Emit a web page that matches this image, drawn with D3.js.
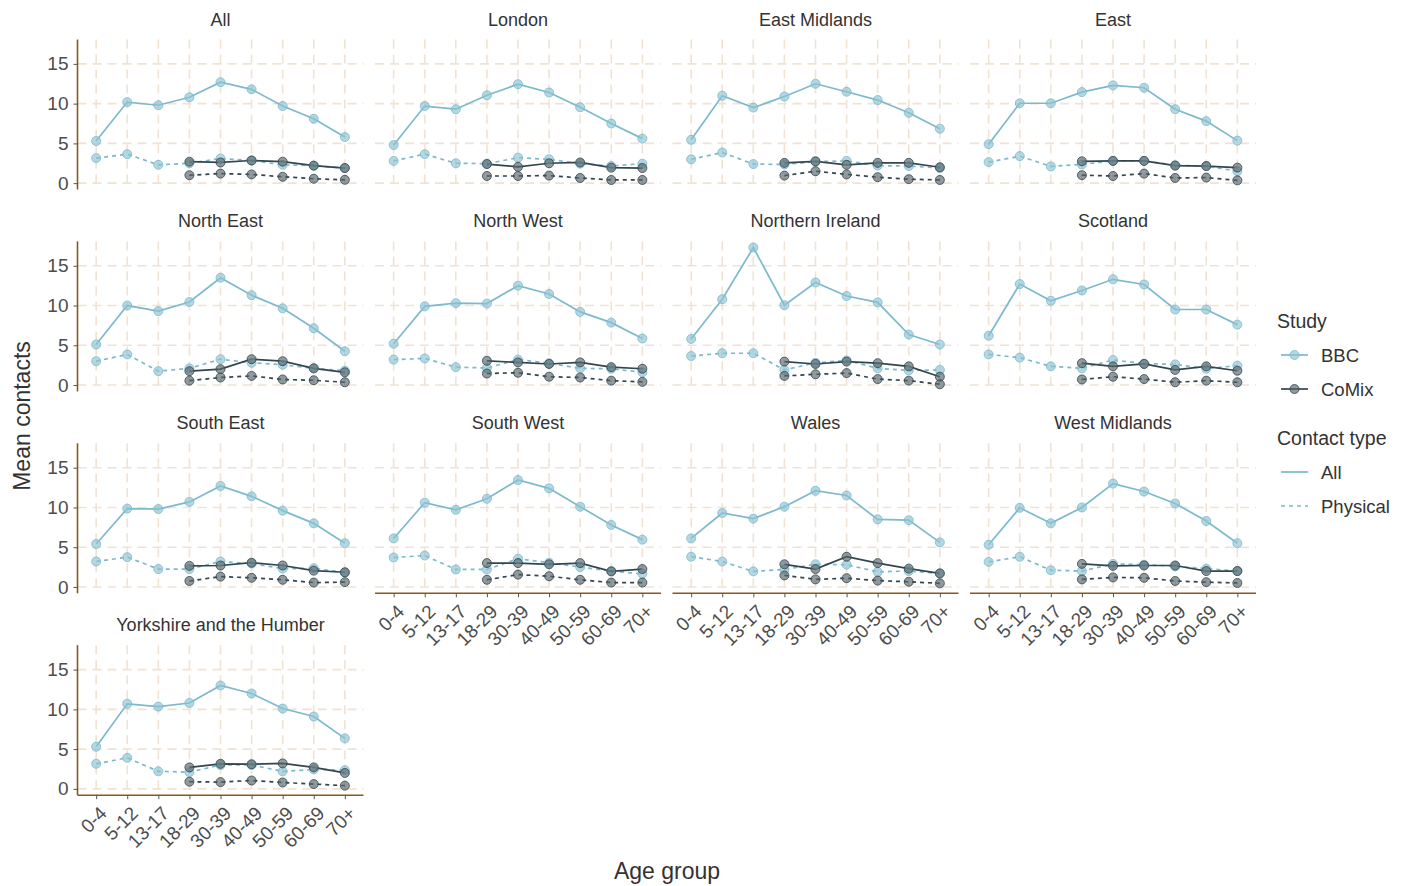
<!DOCTYPE html>
<html>
<head>
<meta charset="utf-8">
<script src="https://cdn.jsdelivr.net/npm/d3@7"></script>
<style>
  body { margin: 0; background: #fff; }
  svg { display: block; font-family: "Liberation Sans", Arial, sans-serif; }
</style>
</head>
<body>
<div id="chart"></div>
<script>
// Data
const ageGroups = ["0-4", "5-12", "13-17", "18-29", "30-39", "40-49", "50-59", "60-69", "70+"];
const comixAges = ["18-29", "30-39", "40-49", "50-59", "60-69", "70+"];
const regions = ["All", "London", "East Midlands", "East", "North East", "North West",
  "Northern Ireland", "Scotland", "South East", "South West", "Wales", "West Midlands",
  "Yorkshire and the Humber"];
const yTicks = [0, 5, 10, 15];

// one row per region, in the same order as regions
const bbcAll = [
  [5.3, 10.2, 9.8, 10.8, 12.7, 11.8, 9.7, 8.1, 5.8],
  [4.8, 9.7, 9.3, 11.05, 12.45, 11.4, 9.55, 7.5, 5.6],
  [5.45, 11.0, 9.5, 10.9, 12.5, 11.5, 10.45, 8.85, 6.85],
  [4.9, 10.05, 10.05, 11.45, 12.3, 12.0, 9.3, 7.8, 5.35],
  [5.1, 10.0, 9.3, 10.45, 13.5, 11.3, 9.65, 7.15, 4.25],
  [5.2, 9.9, 10.3, 10.25, 12.5, 11.45, 9.2, 7.85, 5.85],
  [5.8, 10.8, 17.3, 10.05, 12.9, 11.2, 10.4, 6.35, 5.1],
  [6.2, 12.7, 10.6, 11.9, 13.3, 12.65, 9.5, 9.5, 7.6],
  [5.4, 9.85, 9.8, 10.7, 12.7, 11.4, 9.6, 8.0, 5.5],
  [6.1, 10.6, 9.7, 11.1, 13.45, 12.4, 10.1, 7.8, 5.95],
  [6.1, 9.3, 8.6, 10.1, 12.1, 11.5, 8.5, 8.4, 5.6],
  [5.3, 9.95, 8.0, 10.0, 13.0, 12.0, 10.5, 8.3, 5.5],
  [5.3, 10.7, 10.35, 10.8, 13.0, 12.0, 10.1, 9.1, 6.35]
];
const bbcPhysical = [
  [3.15, 3.65, 2.3, 2.5, 3.1, 2.85, 2.3, 2.2, 1.9],
  [2.8, 3.65, 2.5, 2.45, 3.2, 3.0, 2.45, 2.15, 2.45],
  [3.0, 3.85, 2.4, 2.35, 2.7, 2.8, 2.2, 2.15, 1.9],
  [2.65, 3.4, 2.1, 2.35, 2.8, 2.8, 2.25, 2.15, 1.5],
  [3.0, 3.85, 1.75, 2.1, 3.25, 2.8, 2.55, 2.1, 1.8],
  [3.2, 3.35, 2.25, 2.15, 3.2, 2.75, 2.1, 2.05, 1.6],
  [3.65, 4.0, 4.0, 1.9, 2.8, 3.1, 2.1, 1.85, 1.9],
  [3.85, 3.45, 2.35, 2.1, 3.15, 2.7, 2.6, 2.05, 2.45],
  [3.2, 3.75, 2.25, 2.25, 3.2, 2.95, 2.3, 2.35, 1.8],
  [3.7, 3.95, 2.2, 2.2, 3.55, 3.05, 2.5, 2.0, 1.65],
  [3.8, 3.2, 1.95, 2.2, 2.85, 2.8, 1.9, 2.0, 1.7],
  [3.15, 3.8, 2.1, 2.0, 2.9, 2.8, 2.6, 2.3, 2.0],
  [3.15, 3.9, 2.2, 2.1, 3.0, 3.0, 2.2, 2.45, 2.35]
];
const comixAll = [
  [2.7, 2.6, 2.85, 2.7, 2.2, 1.9],
  [2.4, 2.05, 2.5, 2.6, 1.95, 1.9],
  [2.55, 2.75, 2.3, 2.55, 2.55, 2.0],
  [2.75, 2.8, 2.8, 2.2, 2.15, 1.95],
  [1.75, 2.0, 3.25, 3.0, 2.1, 1.6],
  [3.05, 2.85, 2.65, 2.85, 2.25, 2.05],
  [2.95, 2.65, 2.95, 2.75, 2.35, 1.05],
  [2.75, 2.35, 2.65, 1.9, 2.35, 1.8],
  [2.65, 2.7, 3.05, 2.7, 2.05, 1.85],
  [3.0, 3.0, 2.85, 3.0, 1.95, 2.25],
  [2.85, 2.25, 3.8, 3.0, 2.3, 1.7],
  [2.9, 2.65, 2.7, 2.7, 2.0, 2.0],
  [2.7, 3.15, 3.1, 3.2, 2.7, 2.0]
];
const comixPhysical = [
  [1.0, 1.2, 1.1, 0.8, 0.55, 0.42],
  [0.9, 0.9, 0.95, 0.65, 0.4, 0.4],
  [0.95, 1.5, 1.1, 0.75, 0.5, 0.4],
  [1.0, 0.9, 1.2, 0.65, 0.7, 0.35],
  [0.55, 0.95, 1.15, 0.7, 0.6, 0.35],
  [1.45, 1.55, 1.05, 0.95, 0.55, 0.4],
  [1.15, 1.35, 1.5, 0.75, 0.55, 0.1],
  [0.7, 1.05, 0.75, 0.35, 0.55, 0.35],
  [0.75, 1.3, 1.15, 0.9, 0.55, 0.6],
  [0.9, 1.55, 1.35, 0.9, 0.55, 0.55],
  [1.45, 0.95, 1.1, 0.8, 0.65, 0.45],
  [0.95, 1.2, 1.15, 0.75, 0.6, 0.5],
  [0.9, 0.85, 1.05, 0.8, 0.6, 0.4]
];

// styles
const bbcColor = "#7db9cc";
const comixColor = "#33464d";
const gridColor = "#f1e2d2";
const axisColor = "#855a1a";
const textColor = "#333333";

const width = 1407, height = 886;
const panelW = 286, panelH = 150;
const ncol = 4;
const colLeft = c => 77.5 + c * 297.5;
const rowTop = r => 39.5 + r * 201.9;

const svg = d3.select("#chart").append("svg")
  .attr("width", width)
  .attr("height", height);

const x = d3.scalePoint().domain(ageGroups).range([0, panelW]).padding(0.6);
const y = d3.scaleLinear().domain([-0.8, 18.07]).range([panelH, 0]);

const line = d3.line()
  .x(d => x(d.age))
  .y(d => y(d.value));

regions.forEach((region, i) => {
  const row = Math.floor(i / ncol);
  const col = i % ncol;
  const g = svg.append("g")
    .attr("transform", `translate(${colLeft(col)},${rowTop(row)})`);

  // strip title
  g.append("text")
    .attr("x", panelW / 2)
    .attr("y", -20)
    .attr("text-anchor", "middle")
    .attr("dominant-baseline", "central")
    .attr("font-size", 18)
    .attr("fill", textColor)
    .text(region);

  // dashed grid
  g.append("g").selectAll("line.h")
    .data(yTicks)
    .enter().append("line")
    .attr("x1", 0).attr("x2", panelW)
    .attr("y1", d => y(d)).attr("y2", d => y(d))
    .attr("stroke", gridColor)
    .attr("stroke-width", 1.6)
    .attr("stroke-dasharray", "9,6");

  g.append("g").selectAll("line.v")
    .data(ageGroups)
    .enter().append("line")
    .attr("x1", d => x(d)).attr("x2", d => x(d))
    .attr("y1", 0).attr("y2", panelH)
    .attr("stroke", gridColor)
    .attr("stroke-width", 1.6)
    .attr("stroke-dasharray", "9,6");

  const series = [
    { vals: bbcAll[i], ages: ageGroups, color: bbcColor, dash: null, study: "bbc" },
    { vals: bbcPhysical[i], ages: ageGroups, color: bbcColor, dash: "4,4", study: "bbc" },
    { vals: comixAll[i], ages: comixAges, color: comixColor, dash: null, study: "comix" },
    { vals: comixPhysical[i], ages: comixAges, color: comixColor, dash: "4,4", study: "comix" }
  ].map(s => ({ ...s, pts: s.vals.map((v, k) => ({ age: s.ages[k], value: v })) }));

  series.forEach(s => {
    g.append("path")
      .datum(s.pts)
      .attr("d", line)
      .attr("fill", "none")
      .attr("stroke", s.color)
      .attr("stroke-width", 1.7)
      .attr("stroke-dasharray", s.dash);
  });

  series.forEach(s => {
    g.append("g").selectAll("circle")
      .data(s.pts)
      .enter().append("circle")
      .attr("cx", d => x(d.age))
      .attr("cy", d => y(d.value))
      .attr("r", 4.5)
      .attr("fill", s.study === "bbc" ? "#8cc3d4" : "#56666c")
      .attr("fill-opacity", 0.65)
      .attr("stroke", s.color)
      .attr("stroke-opacity", 0.8)
      .attr("stroke-width", 1);
  });

  // y axis only on first column
  if (col === 0) {
    const ya = g.append("g")
      .call(d3.axisLeft(y).tickValues(yTicks).tickSize(4).tickPadding(5));
    ya.select(".domain").attr("stroke", axisColor).attr("stroke-width", 1.6)
      .attr("d", `M0,0V${panelH}`);
    ya.selectAll(".tick line").attr("stroke", "#555");
    ya.selectAll(".tick text")
      .attr("font-size", 19)
      .attr("font-family", "Liberation Sans, Arial, sans-serif")
      .attr("fill", "#4d4d4d");
  }

  // x axis only where no panel sits below
  if (i + ncol >= regions.length) {
    const xa = g.append("g")
      .attr("transform", `translate(0,${panelH})`)
      .call(d3.axisBottom(x).tickSize(4).tickPadding(0));
    xa.select(".domain").attr("stroke", axisColor).attr("stroke-width", 1.6)
      .attr("d", `M0,0H${panelW}`);
    xa.selectAll(".tick line").attr("stroke", "#555");
    xa.selectAll(".tick text")
      .attr("font-size", 19)
      .attr("font-family", "Liberation Sans, Arial, sans-serif")
      .attr("fill", "#4d4d4d")
      .attr("text-anchor", "end")
      .attr("y", 0)
      .attr("dy", "0.7em")
      .attr("transform", "translate(2,10) rotate(-45)");
  }
});

// axis titles
svg.append("text")
  .attr("x", 667)
  .attr("y", 871)
  .attr("text-anchor", "middle")
  .attr("dominant-baseline", "central")
  .attr("font-size", 23)
  .attr("fill", textColor)
  .text("Age group");

svg.append("text")
  .attr("transform", "translate(22,416) rotate(-90)")
  .attr("text-anchor", "middle")
  .attr("dominant-baseline", "central")
  .attr("font-size", 23)
  .attr("fill", textColor)
  .text("Mean contacts");

// legend
const legend = svg.append("g").attr("transform", "translate(1277,0)");

legend.append("text")
  .attr("x", 0).attr("y", 321)
  .attr("dominant-baseline", "central")
  .attr("font-size", 19.5)
  .attr("fill", textColor)
  .text("Study");

const studyKeys = [
  { label: "BBC", color: bbcColor, fill: "#8cc3d4", y: 355 },
  { label: "CoMix", color: comixColor, fill: "#56666c", y: 389 }
];
studyKeys.forEach(k => {
  legend.append("line")
    .attr("x1", 4).attr("x2", 31)
    .attr("y1", k.y).attr("y2", k.y)
    .attr("stroke", k.color).attr("stroke-width", 1.7);
  legend.append("circle")
    .attr("cx", 17.5).attr("cy", k.y).attr("r", 4.5)
    .attr("fill", k.fill).attr("fill-opacity", 0.65)
    .attr("stroke", k.color).attr("stroke-opacity", 0.8);
  legend.append("text")
    .attr("x", 44).attr("y", k.y)
    .attr("dominant-baseline", "central")
    .attr("font-size", 18.5)
    .attr("fill", textColor)
    .text(k.label);
});

legend.append("text")
  .attr("x", 0).attr("y", 438)
  .attr("dominant-baseline", "central")
  .attr("font-size", 19.5)
  .attr("fill", textColor)
  .text("Contact type");

const typeKeys = [
  { label: "All", dash: null, y: 472 },
  { label: "Physical", dash: "4,4", y: 506 }
];
typeKeys.forEach(k => {
  legend.append("line")
    .attr("x1", 4).attr("x2", 31)
    .attr("y1", k.y).attr("y2", k.y)
    .attr("stroke", bbcColor).attr("stroke-width", 1.7)
    .attr("stroke-dasharray", k.dash);
  legend.append("text")
    .attr("x", 44).attr("y", k.y)
    .attr("dominant-baseline", "central")
    .attr("font-size", 18.5)
    .attr("fill", textColor)
    .text(k.label);
});
</script>
</body>
</html>
